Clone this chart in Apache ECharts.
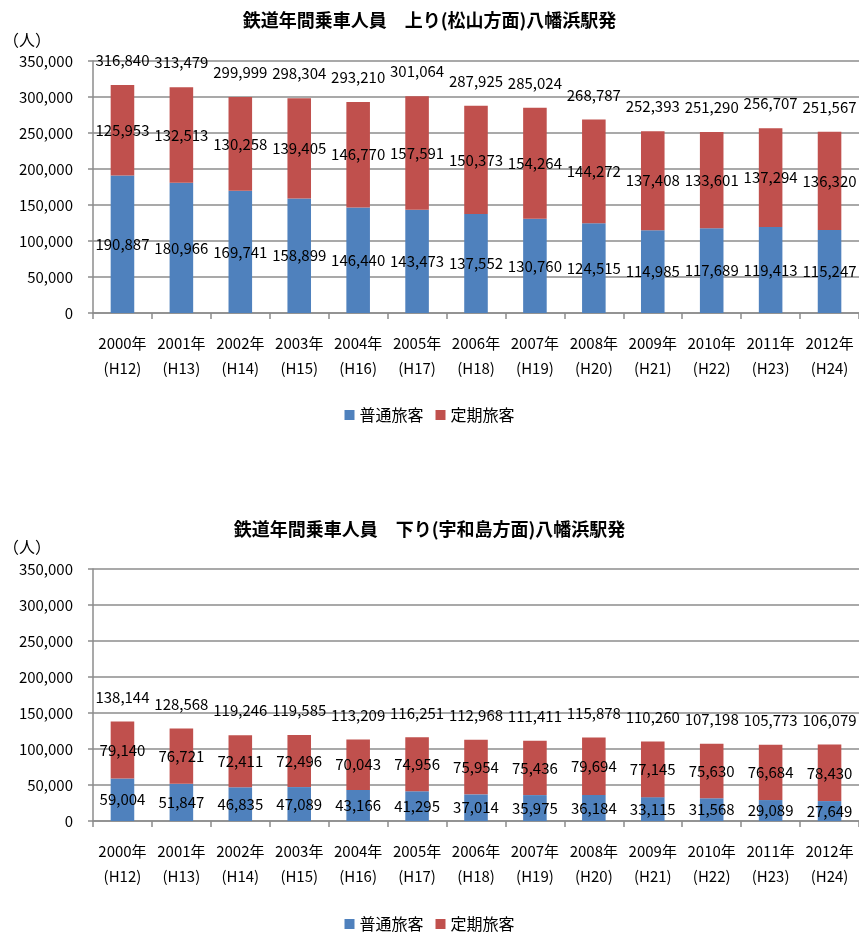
<!DOCTYPE html>
<html><head><meta charset="utf-8">
<script src="https://cdn.jsdelivr.net/npm/echarts@6/dist/echarts.min.js"></script>
<style>html,body{margin:0;padding:0;background:#fff}#c{width:859px;height:932px}</style>
</head><body><div id="c"></div>
<script>
const categories = ['2000年\n(H12)','2001年\n(H13)','2002年\n(H14)','2003年\n(H15)','2004年\n(H16)','2005年\n(H17)','2006年\n(H18)','2007年\n(H19)','2008年\n(H20)','2009年\n(H21)','2010年\n(H22)','2011年\n(H23)','2012年\n(H24)'];
const upRegular = [190887,180966,169741,158899,146440,143473,137552,130760,124515,114985,117689,119413,115247];
const upCommuter = [125953,132513,130258,139405,146770,157591,150373,154264,144272,137408,133601,137294,136320];
const upTotal = [316840,313479,299999,298304,293210,301064,287925,285024,268787,252393,251290,256707,251567];
const downRegular = [59004,51847,46835,47089,43166,41295,37014,35975,36184,33115,31568,29089,27649];
const downCommuter = [79140,76721,72411,72496,70043,74956,75954,75436,79694,77145,75630,76684,78430];
const downTotal = [138144,128568,119246,119585,113209,116251,112968,111411,115878,110260,107198,105773,106079];
const yTicks = [0,50000,100000,150000,200000,250000,300000,350000];
const seriesNames = ['普通旅客','定期旅客'];
const titles = ['鉄道年間乗車人員　上り(松山方面)八幡浜駅発','鉄道年間乗車人員　下り(宇和島方面)八幡浜駅発'];

const FONT = "'Liberation Sans Narrow','Noto Sans CJK JP',sans-serif";
const BLUE = '#4F81BD', RED = '#C0504D', GRID = '#8c8c8c';
const fmt = v => v.toLocaleString('en-US');
const chart = echarts.init(document.getElementById('c'));

const tops = [61, 569];
const grids = tops.map(t => ({left: 93, right: 0, top: t, height: 252}));
const xAxes = tops.map((t,i) => ({
  gridIndex: i, type: 'category', data: categories,
  axisLine: {lineStyle: {color: GRID, width: 1.5}},
  axisTick: {show: true, length: 6, lineStyle: {color: GRID, width: 1.5}},
  axisLabel: {color: '#000', fontSize: 15, fontFamily: FONT, lineHeight: 25, margin: 18, interval: 0}
}));
const yAxes = tops.map((t,i) => ({
  gridIndex: i, type: 'value', min: yTicks[0], max: yTicks[yTicks.length-1], interval: yTicks[1]-yTicks[0],
  axisLine: {show: true, lineStyle: {color: GRID, width: 1.5}},
  axisTick: {show: true, length: 5, lineStyle: {color: GRID, width: 1.5}},
  splitLine: {lineStyle: {color: GRID, width: 1.5}},
  axisLabel: {color: '#000', fontSize: 15, fontFamily: FONT, margin: 20, formatter: v => fmt(v)}
}));
const inLabel = {show: true, position: 'inside', color: '#000', fontSize: 15, fontFamily: FONT, formatter: p => fmt(p.value)};
const series = [];
[[upRegular, upCommuter, upTotal],[downRegular, downCommuter, downTotal]].forEach((d,i) => {
  series.push({name: seriesNames[0], type: 'bar', stack: 's'+i, xAxisIndex: i, yAxisIndex: i, data: d[0], barWidth: '40%', itemStyle: {color: BLUE}, label: inLabel});
  series.push({name: seriesNames[1], type: 'bar', stack: 's'+i, xAxisIndex: i, yAxisIndex: i, data: d[1], barWidth: '40%', itemStyle: {color: RED}, label: inLabel});
  series.push({name: 'total'+i, type: 'bar', stack: 's'+i, xAxisIndex: i, yAxisIndex: i, data: d[2].map(()=>0), barWidth: '40%', itemStyle: {color: 'transparent'},
    label: {show: true, position: 'top', distance: 17, color: '#000', fontSize: 15, fontFamily: FONT, formatter: p => fmt(d[2][p.dataIndex])}});
});

chart.setOption({
  animation: false,
  backgroundColor: '#fff',
  title: [
    {text: titles[0], left: 'center', top: 6, textStyle: {fontSize: 18, fontWeight: 'bold', color: '#000', fontFamily: FONT}},
    {text: titles[1], left: 'center', top: 515, textStyle: {fontSize: 18, fontWeight: 'bold', color: '#000', fontFamily: FONT}},
    {text: '（人）', left: -2, top: 27, textStyle: {fontSize: 16, fontWeight: 'normal', color: '#000', fontFamily: FONT}},
    {text: '（人）', left: -2, top: 534, textStyle: {fontSize: 16, fontWeight: 'normal', color: '#000', fontFamily: FONT}}
  ],
  legend: [
    {data: seriesNames, left: 'center', top: 402, icon: 'rect', itemWidth: 10, itemHeight: 10, itemGap: 12, textStyle: {fontSize: 16, color: '#000', fontFamily: FONT}},
    {data: seriesNames, left: 'center', top: 911, icon: 'rect', itemWidth: 10, itemHeight: 10, itemGap: 12, textStyle: {fontSize: 16, color: '#000', fontFamily: FONT}}
  ],
  grid: grids, xAxis: xAxes, yAxis: yAxes, series: series
});
</script></body></html>
